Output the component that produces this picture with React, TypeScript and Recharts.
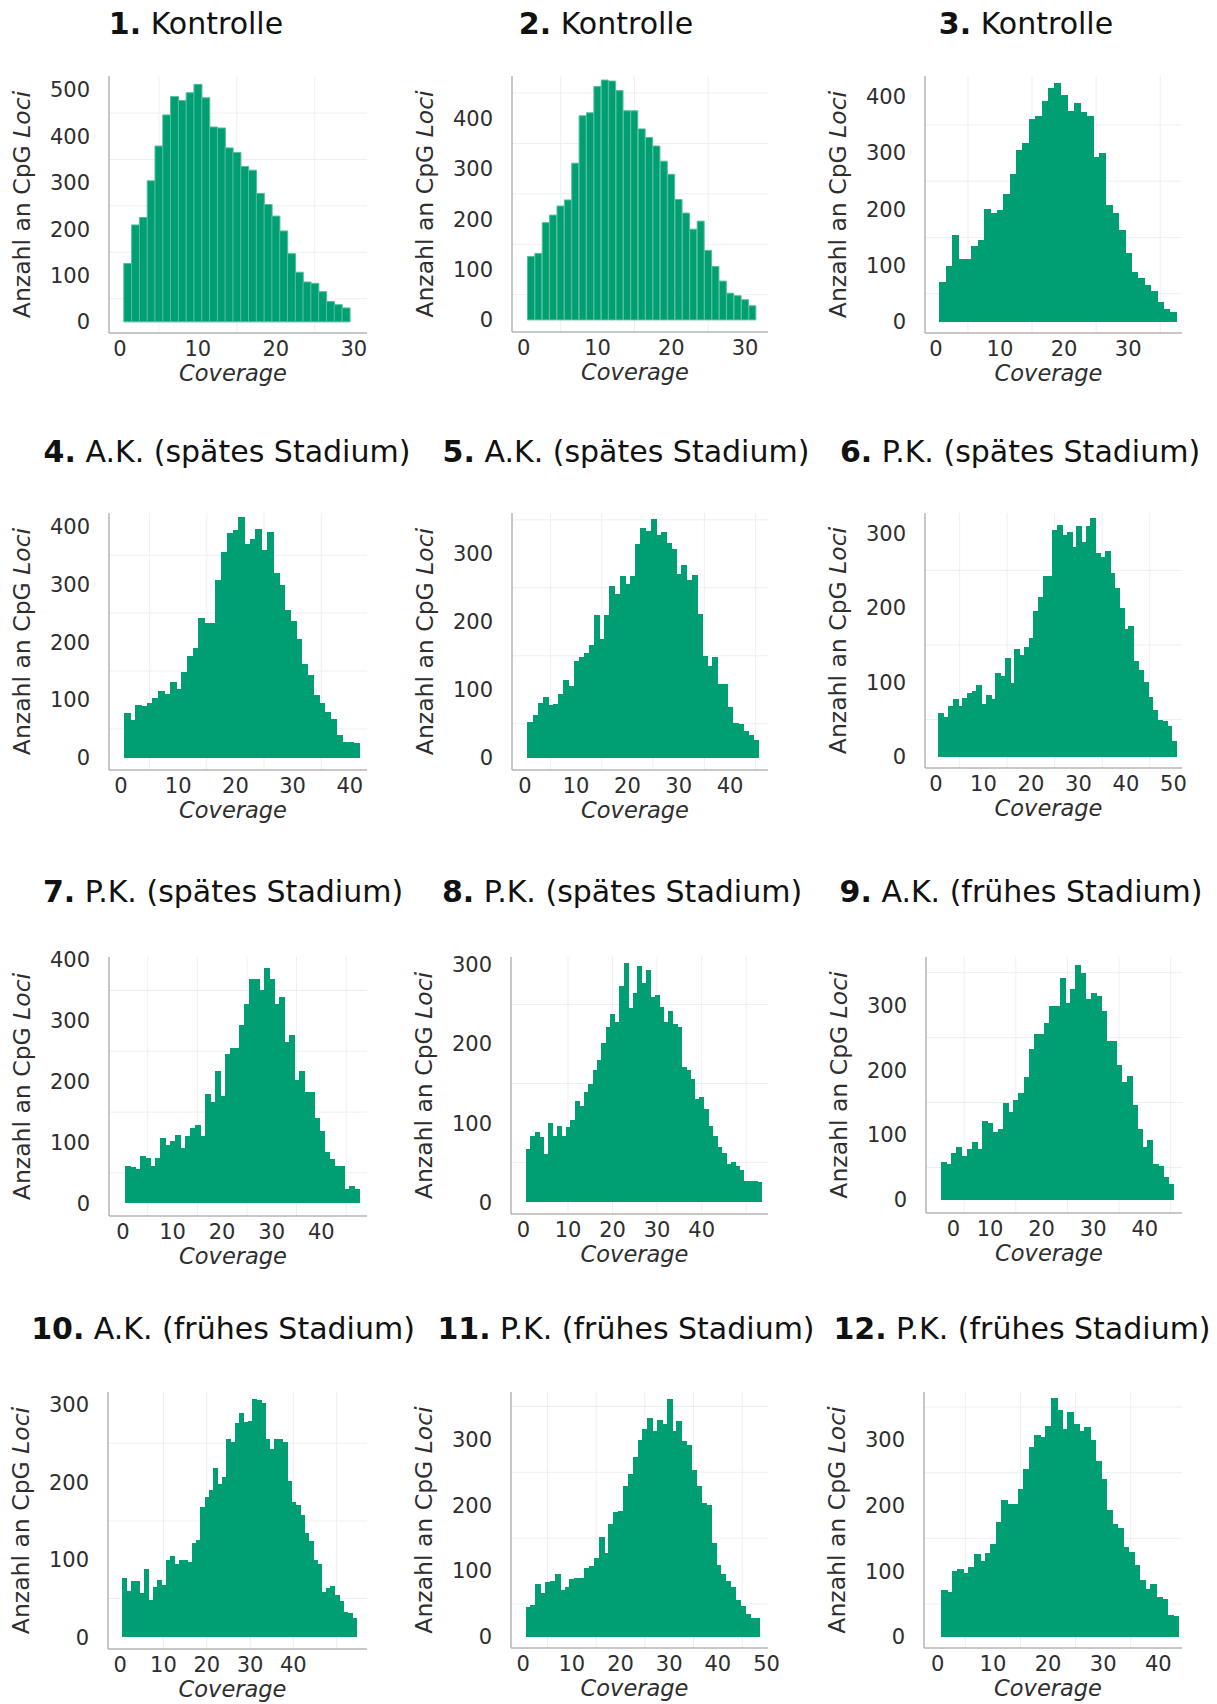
import { BarChart, Bar, XAxis, YAxis, CartesianGrid } from 'recharts';

const FONT = '"DejaVu Sans", Verdana, sans-serif';
const GREEN = '#009E73';

// Anzahl an CpG Loci je Coverage-Bin (Bin 1, 2, 3, ...)
const kontrolle1 = [126, 209, 225, 304, 379, 446, 486, 477, 494, 512, 483, 420, 418, 375, 365, 335, 327, 277, 253, 228, 196, 147, 107, 86, 83, 65, 44, 37, 30];
const kontrolle2 = [126, 132, 193, 208, 226, 238, 311, 405, 411, 463, 476, 474, 455, 415, 415, 379, 362, 345, 315, 289, 239, 212, 180, 196, 138, 106, 77, 53, 48, 40, 28];
const kontrolle3 = [71, 100, 155, 111, 112, 135, 146, 200, 194, 199, 228, 263, 306, 317, 360, 366, 392, 415, 425, 404, 375, 389, 373, 365, 293, 300, 207, 194, 164, 123, 88, 77, 66, 55, 36, 22, 18];
const akSpaet4 = [78, 66, 92, 89, 95, 103, 116, 110, 131, 119, 148, 176, 189, 242, 233, 233, 308, 355, 388, 394, 416, 370, 378, 395, 359, 391, 319, 298, 256, 236, 205, 162, 143, 108, 94, 79, 67, 39, 28, 28, 25];
const akSpaet5 = [52, 63, 80, 89, 77, 79, 94, 114, 105, 143, 148, 154, 166, 210, 175, 210, 252, 241, 267, 256, 267, 315, 338, 334, 351, 328, 332, 316, 307, 271, 283, 261, 269, 212, 150, 135, 148, 109, 108, 75, 51, 50, 40, 33, 26];
const pkSpaet6 = [59, 54, 68, 77, 68, 79, 86, 88, 96, 71, 83, 77, 113, 108, 133, 99, 144, 137, 147, 160, 196, 214, 242, 242, 304, 311, 298, 301, 282, 309, 288, 309, 320, 273, 268, 276, 247, 226, 200, 171, 175, 128, 117, 100, 80, 63, 50, 48, 42, 21];
const pkSpaet7 = [61, 60, 56, 77, 75, 61, 75, 107, 96, 102, 112, 91, 110, 124, 128, 110, 180, 167, 218, 176, 245, 256, 255, 293, 327, 369, 369, 351, 387, 369, 327, 339, 266, 276, 202, 218, 183, 183, 141, 119, 85, 72, 61, 61, 24, 29, 23];
const pkSpaet8 = [67, 84, 89, 82, 61, 100, 84, 96, 84, 95, 104, 128, 122, 139, 150, 167, 180, 201, 221, 238, 228, 273, 303, 246, 264, 298, 277, 294, 259, 262, 247, 228, 242, 225, 221, 171, 167, 156, 131, 133, 118, 96, 84, 70, 62, 48, 51, 46, 41, 27, 27, 27, 25];
const akFrueh9 = [59, 55, 72, 81, 68, 79, 89, 78, 122, 119, 105, 109, 150, 136, 154, 164, 190, 232, 256, 256, 273, 298, 298, 341, 303, 324, 362, 350, 310, 318, 314, 291, 244, 244, 208, 182, 191, 146, 110, 82, 92, 56, 52, 35, 24];
const akFrueh10 = [77, 60, 72, 73, 57, 88, 48, 65, 74, 68, 100, 105, 94, 100, 99, 97, 121, 126, 168, 181, 190, 218, 197, 207, 256, 252, 276, 289, 278, 279, 307, 306, 302, 255, 242, 256, 255, 251, 201, 174, 170, 158, 135, 124, 99, 94, 58, 63, 66, 55, 47, 33, 32, 25];
const pkFrueh11 = [46, 49, 81, 67, 83, 85, 95, 71, 76, 88, 90, 90, 104, 107, 120, 152, 127, 172, 190, 191, 229, 247, 273, 299, 316, 332, 312, 329, 324, 361, 313, 328, 297, 292, 253, 229, 203, 200, 143, 109, 96, 85, 76, 56, 47, 35, 29, 28];
const pkFrueh12 = [72, 68, 101, 103, 98, 106, 126, 115, 127, 142, 175, 209, 202, 202, 225, 255, 289, 308, 304, 321, 364, 346, 316, 343, 324, 314, 319, 300, 268, 240, 193, 172, 166, 137, 129, 110, 86, 73, 81, 60, 58, 33, 32];

const titles = [
  'Kontrolle', 'Kontrolle', 'Kontrolle',
  'A.K. (spätes Stadium)', 'A.K. (spätes Stadium)', 'P.K. (spätes Stadium)',
  'P.K. (spätes Stadium)', 'P.K. (spätes Stadium)', 'A.K. (frühes Stadium)',
  'A.K. (frühes Stadium)', 'P.K. (frühes Stadium)', 'P.K. (frühes Stadium)',
];

const ticks30 = [0, 10, 20, 30];
const ticks40 = [0, 10, 20, 30, 40];
const ticks50 = [0, 10, 20, 30, 40, 50];
const yTicks300 = [0, 100, 200, 300];
const yTicks400 = [0, 100, 200, 300, 400];
const yTicks500 = [0, 100, 200, 300, 400, 500];

const gridOdd = [5, 15, 25, 35, 45];
const gridEven = [10, 20, 30, 40, 50];
const gridY = [50, 150, 250, 350, 450];

// box = plot area [left, top, right, bottom] in page px
const panels = [
  { counts: kontrolle1, box: [109, 76, 367, 333], xDomain: [-1.4, 31.7], yDomain: [-24, 530], xTicks: ticks30, yTicks: yTicks500, xGrid: gridOdd, titleX: 196, titleY: 24, outline: true },
  { counts: kontrolle2, box: [512, 76, 768, 332], xDomain: [-1.6, 33.1], yDomain: [-24, 484], xTicks: ticks30, yTicks: yTicks400, xGrid: gridOdd, titleX: 606, titleY: 24, outline: true },
  { counts: kontrolle3, box: [925, 76, 1182, 333], xDomain: [-1.7, 38.4], yDomain: [-20, 437], xTicks: ticks30, yTicks: yTicks400, xGrid: gridOdd, titleX: 1026, titleY: 24 },
  { counts: akSpaet4, box: [109, 513, 367, 770], xDomain: [-2.1, 43.0], yDomain: [-21, 423], xTicks: ticks40, yTicks: yTicks400, xGrid: gridOdd, titleX: 227, titleY: 452 },
  { counts: akSpaet5, box: [512, 513, 768, 770], xDomain: [-2.5, 47.4], yDomain: [-18, 360], xTicks: ticks40, yTicks: yTicks300, xGrid: gridOdd, titleX: 626, titleY: 452 },
  { counts: pkSpaet6, box: [925, 513, 1182, 768], xDomain: [-2.3, 51.8], yDomain: [-15, 327], xTicks: ticks50, yTicks: yTicks300, xGrid: gridOdd, titleX: 1020, titleY: 452 },
  { counts: pkSpaet7, box: [109, 957, 367, 1216], xDomain: [-2.8, 49.2], yDomain: [-21, 405], xTicks: ticks40, yTicks: yTicks400, xGrid: gridOdd, titleX: 223, titleY: 892 },
  { counts: pkSpaet8, box: [511, 957, 768, 1214], xDomain: [-2.8, 54.9], yDomain: [-15, 310], xTicks: ticks40, yTicks: yTicks300, xGrid: gridEven, titleX: 622, titleY: 892 },
  { counts: akFrueh9, box: [926, 957, 1182, 1213], xDomain: [-2.4, 47.2], yDomain: [-20, 374], xTicks: ticks40, yTicks: yTicks300, xGrid: gridOdd, titleX: 1021, titleY: 892, zeroShift: 15 },
  { counts: akFrueh10, box: [108, 1392, 367, 1649], xDomain: [-2.8, 57], yDomain: [-15, 316], xTicks: ticks40, yTicks: yTicks300, xGrid: gridEven, titleX: 223, titleY: 1329 },
  { counts: pkFrueh11, box: [511, 1392, 768, 1648], xDomain: [-2.5, 50.3], yDomain: [-17, 372], xTicks: ticks50, yTicks: yTicks300, xGrid: gridOdd, titleX: 626, titleY: 1329 },
  { counts: pkFrueh12, box: [924, 1392, 1182, 1648], xDomain: [-2.5, 44.3], yDomain: [-17, 373], xTicks: ticks40, yTicks: yTicks300, xGrid: gridOdd, titleX: 1022, titleY: 1329 },
];

const tickStyle = { fill: '#2e2e2e', fontSize: 21, fontFamily: FONT };
const axisLine = { stroke: '#b5b5b5', strokeWidth: 1.5 };

const XTick = ({ x, y, payload, shift }: any) => (
  <text x={x + (payload.value === 0 ? shift || 0 : 0)} y={y} dy="0.71em" textAnchor="middle" {...tickStyle}>
    {payload.value}
  </text>
);

const YLabel = ({ viewBox }: any) => {
  const cx = viewBox.x + viewBox.width - 87;
  const cy = viewBox.y + viewBox.height / 2;
  return (
    <text x={cx} y={cy} transform={`rotate(-90 ${cx} ${cy})`} textAnchor="middle" dominantBaseline="central" fill="#2e2e2e" fontSize={23.5} fontFamily={FONT}>
      Anzahl an CpG <tspan fontStyle="italic">Loci</tspan>
    </text>
  );
};

const XLabel = ({ viewBox }: any) => (
  <text x={viewBox.x + viewBox.width / 2 - 5} y={viewBox.y + 48} textAnchor="middle" fill="#2e2e2e" fontSize={22.5} fontStyle="italic" fontFamily={FONT}>
    Coverage
  </text>
);

// solid bins: recharts rounds bar widths down, so let each bar overlap the
// small rounding gap to its right neighbour
const SolidBin = (props: any) => (
  <rect x={props.x} y={props.y} width={props.width + 1} height={props.height} fill={GREEN} shapeRendering="crispEdges" />
);

function Panel({ p, index }: { p: any; index: number }) {
  const [L, T, R, B] = p.box;
  const rows = p.counts.map((n: number, i: number) => ({ coverage: i + 1, n }));
  const vGrid = p.xGrid.filter((v: number) => v < p.xDomain[1]);
  const hGrid = gridY.filter((v) => v < p.yDomain[1]);
  return (
    <>
      <div style={{ position: 'absolute', left: p.titleX, top: p.titleY, transform: 'translate(-50%, -50%)', fontFamily: FONT, fontSize: 30, lineHeight: 1, whiteSpace: 'nowrap', color: '#111' }}>
        <b>{index + 1}.</b> {titles[index]}
      </div>
      <div style={{ position: 'absolute', left: L - 110, top: T - 10 }}>
        <BarChart width={R - L + 140} height={B - T + 80} data={rows} margin={{ top: 10, right: 30, bottom: 0, left: 0 }} barCategoryGap={0} barGap={0}>
          <CartesianGrid stroke="#efefef" verticalValues={vGrid} horizontalValues={hGrid} />
          <XAxis type="number" dataKey="coverage" domain={p.xDomain} allowDataOverflow ticks={p.xTicks} height={70} tickLine={false} axisLine={axisLine} tick={(props: any) => <XTick {...props} shift={p.zeroShift} />} label={XLabel} interval={0} />
          <YAxis type="number" domain={p.yDomain} allowDataOverflow ticks={p.yTicks} width={110} tickLine={false} tickSize={6} tickMargin={13} axisLine={axisLine} tick={tickStyle} label={YLabel} interval={0} />
          {p.outline ? (
            <Bar dataKey="n" fill={GREEN} stroke="#52bf99" strokeWidth={1} isAnimationActive={false} />
          ) : (
            <Bar dataKey="n" fill={GREEN} shape={SolidBin} isAnimationActive={false} />
          )}
        </BarChart>
      </div>
    </>
  );
}

export default function App() {
  return (
    <div style={{ position: 'absolute', left: 0, top: 0, width: 1217, height: 1704, background: '#fff', overflow: 'hidden' }}>
      {panels.map((p, i) => (
        <Panel key={i} p={p} index={i} />
      ))}
    </div>
  );
}
